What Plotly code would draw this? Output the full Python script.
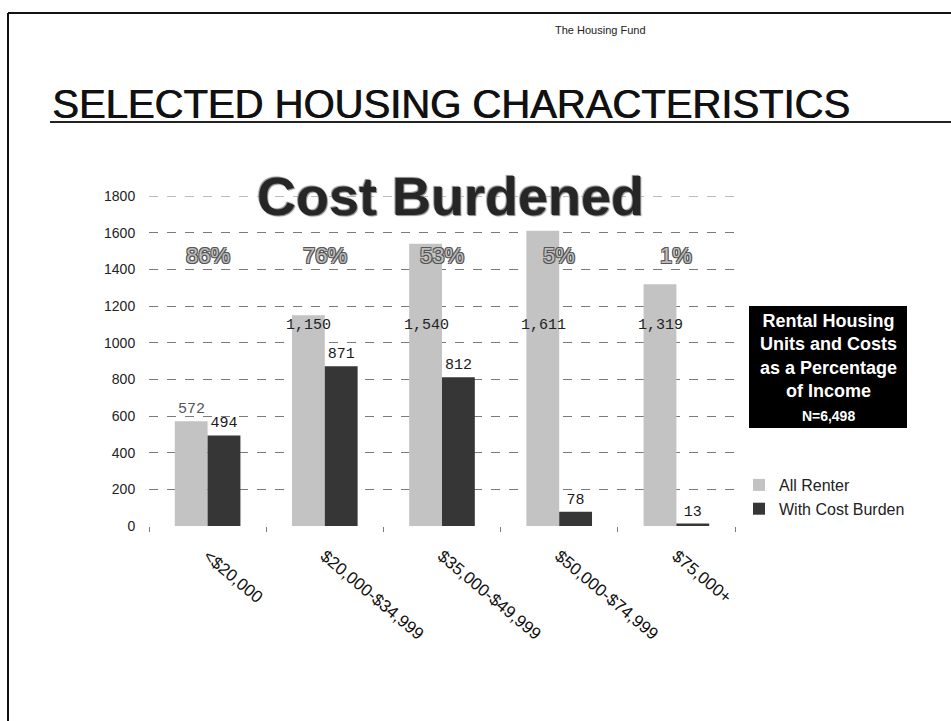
import plotly.graph_objects as go

# Renter households by household income
categories = ["<$20,000", "$20,000-$34,999", "$35,000-$49,999", "$50,000-$74,999", "$75,000+"]
all_renter = [572, 1150, 1540, 1611, 1319]
with_burden = [494, 871, 812, 78, 13]
series_names = ["All Renter", "With Cost Burden"]
y_ticks = [0, 200, 400, 600, 800, 1000, 1200, 1400, 1600, 1800]

burden_share = [f"{round(100 * b / a)}%" for a, b in zip(all_renter, with_burden)]

W, H = 951, 721
PL, PR, PT, PB = 149, 735, 196, 526  # plot area in pixels


def fx(px):
    return (px - PL) / (PR - PL)


def fy(py):
    return (PB - py) / (PB - PT)


LIGHT = "#c3c3c3"
DARK = "#363636"
SANS = "Liberation Sans, Arial, sans-serif"
MONO = "Liberation Mono, Courier New, monospace"
GRID = "#7a7a7a"

fig = go.Figure()
fig.add_trace(go.Bar(
    x=categories, y=all_renter, name=series_names[0],
    marker=dict(color=LIGHT, line=dict(width=0)),
))
fig.add_trace(go.Bar(
    x=categories, y=with_burden, name=series_names[1],
    marker=dict(color=DARK, line=dict(width=0)),
    text=[f"{v:,}" for v in with_burden], textposition="outside",
    textfont=dict(family=MONO, size=15, color="#1a1a1a"),
    cliponaxis=False,
))

annotations = []

# value labels for the All Renter bars
for cat, v in zip(categories, all_renter):
    low = v < 1000
    annotations.append(dict(
        x=cat, y=v if low else 1092, xref="x", yref="y",
        text=f"{v:,}", showarrow=False, xshift=-16,
        yanchor="bottom" if low else "middle", yshift=1 if low else 0,
        font=dict(family=MONO, size=15, color="#555" if low else "#222"),
    ))

# share of renters with a cost burden
outline = "1px 1px 0 #555, -1px -1px 0 #555, 1px -1px 0 #555, -1px 1px 0 #555"
for cat, s in zip(categories, burden_share):
    annotations.append(dict(
        x=cat, y=1478, xref="x", yref="y", text=s, showarrow=False,
        font=dict(family=SANS, size=22, color="#bdbdbd", shadow=outline),
    ))

# chart heading
annotations.append(dict(
    x=fx(450), y=fy(196), xref="paper", yref="paper", text="<b>Cost Burdened</b>",
    showarrow=False, xanchor="center", yanchor="middle",
    font=dict(family=SANS, size=54, color="#262626",
              shadow="1px 1px 1px #888, -1px -1px 1px #888"),
))

# page header and slide title
annotations.append(dict(
    x=fx(600), y=fy(30), xref="paper", yref="paper", text="The Housing Fund",
    showarrow=False, xanchor="center", yanchor="middle",
    font=dict(family=SANS, size=11, color="#222"),
))
annotations.append(dict(
    x=fx(50), y=fy(128), xref="paper", yref="paper",
    text="SELECTED HOUSING CHARACTERISTICS",
    showarrow=False, xanchor="left", yanchor="bottom",
    font=dict(family=SANS, size=40, color="#111",
              shadow="0.8px 0 0 #111"),
))

# description box
annotations.append(dict(
    x=fx(828), y=fy(367), xref="paper", yref="paper",
    text=("<b>Rental Housing<br>Units and Costs<br>as a Percentage<br>of Income<br>"
          "<span style='font-size:14px'>N=6,498</span></b>"),
    showarrow=False, xanchor="center", yanchor="middle", align="center",
    font=dict(family=SANS, size=18, color="white"),
))

shapes = [
    dict(type="rect", xref="paper", yref="paper",
         x0=fx(749), x1=fx(907), y0=fy(428), y1=fy(306),
         fillcolor="black", line=dict(width=0), layer="below"),
    # top gridline at the edge of the value range
    dict(type="line", xref="paper", yref="y", x0=0, x1=1, y0=1800, y1=1800,
         line=dict(color=GRID, width=1, dash="dash"), layer="below"),
    # title underline
    dict(type="line", xref="paper", yref="paper",
         x0=fx(50), x1=fx(951), y0=fy(122), y1=fy(122),
         line=dict(color="#222", width=2)),
    # page frame
    dict(type="line", xref="paper", yref="paper",
         x0=fx(8), x1=fx(951), y0=fy(13), y1=fy(13),
         line=dict(color="#111", width=2)),
    dict(type="line", xref="paper", yref="paper",
         x0=fx(8), x1=fx(8), y0=fy(13), y1=fy(721),
         line=dict(color="#111", width=2)),
]

fig.update_layout(
    width=W, height=H,
    margin=dict(l=PL, r=W - PR, t=PT, b=H - PB),
    paper_bgcolor="white", plot_bgcolor="white",
    barmode="group", bargap=0.44, bargroupgap=0,
    showlegend=True,
    legend=dict(x=fx(739), y=fy(468), xanchor="left", yanchor="top",
                font=dict(family=SANS, size=16, color="#222"),
                itemwidth=30, tracegroupgap=0, bgcolor="rgba(0,0,0,0)"),
    annotations=annotations,
    shapes=shapes,
    font=dict(family=SANS),
)
fig.update_yaxes(
    range=[0, 1800], tickvals=y_ticks, ticktext=[str(t) for t in y_ticks],
    showgrid=True, gridcolor=GRID, griddash="dash", gridwidth=1,
    zeroline=False, showline=False, ticks="outside", ticklen=10, tickcolor="white",
    tickfont=dict(family=SANS, size=14, color="#222"),
)
fig.update_xaxes(
    tickangle=40, tickson="boundaries", ticks="outside", ticklen=5, tickcolor=GRID,
    showline=False, showgrid=False, ticklabelstandoff=16,
    tickfont=dict(family=SANS, size=17, color="#111"),
)

fig.write_html("out.html")
